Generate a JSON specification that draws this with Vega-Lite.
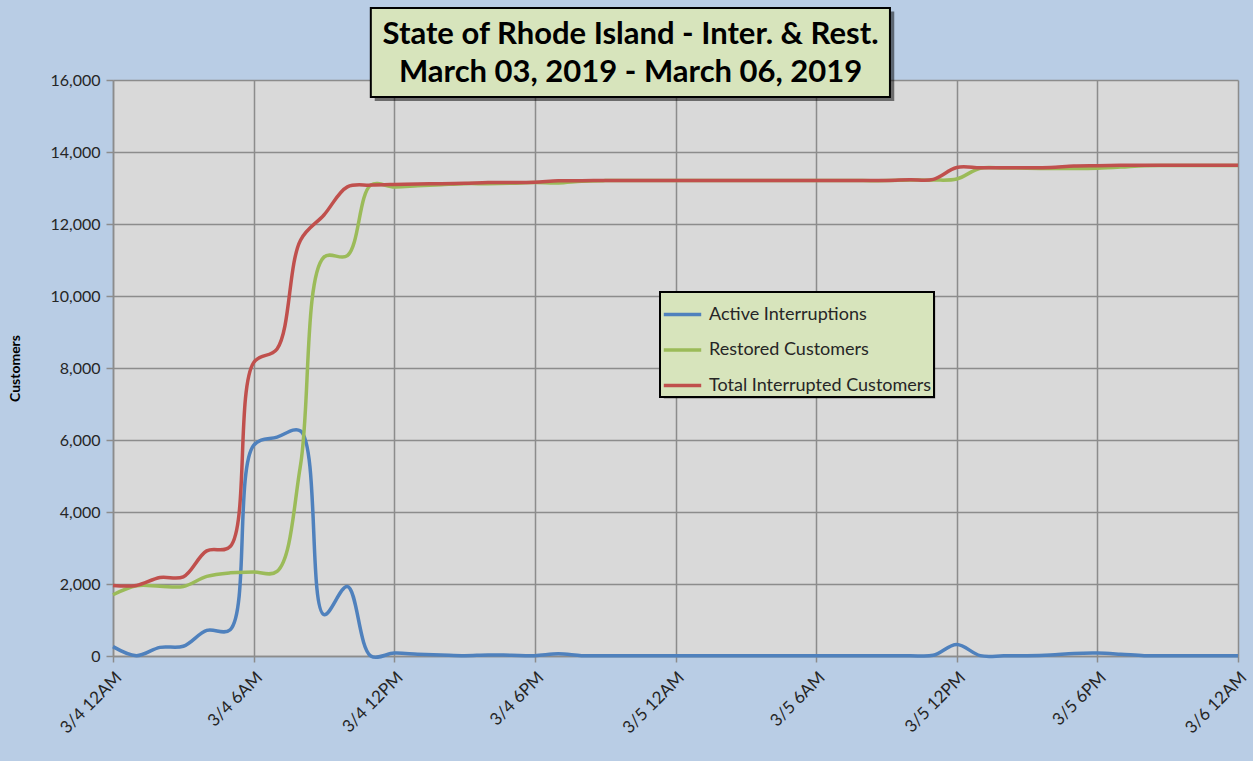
{
  "$schema": "https://vega.github.io/schema/vega-lite/v6.json",
  "width": 1125,
  "height": 576,
  "autosize": {"type": "none"},
  "padding": {"left": 113, "top": 80, "right": 15, "bottom": 105},
  "background": "#B9CDE5",
  "config": {
    "view": {"fill": "#D9D9D9", "stroke": null},
    "font": "Lato",
    "axis": {
      "gridColor": "#8C8C8C",
      "gridWidth": 1.5,
      "domainColor": "#8C8C8C",
      "domainWidth": 1.5,
      "tickColor": "#8C8C8C",
      "tickWidth": 1.5,
      "labelColor": "#262626",
      "labelFont": "Lato",
      "titleFont": "Lato"
    }
  },
  "datasets": {
    "series": [
      {"time": "2019-03-04T00:00", "Active Interruptions": 260, "Restored Customers": 1700, "Total Interrupted Customers": 1960},
      {"time": "2019-03-04T01:00", "Active Interruptions": 10, "Restored Customers": 1950, "Total Interrupted Customers": 1960},
      {"time": "2019-03-04T02:00", "Active Interruptions": 240, "Restored Customers": 1940, "Total Interrupted Customers": 2180},
      {"time": "2019-03-04T03:00", "Active Interruptions": 270, "Restored Customers": 1930, "Total Interrupted Customers": 2200},
      {"time": "2019-03-04T04:00", "Active Interruptions": 710, "Restored Customers": 2210, "Total Interrupted Customers": 2920},
      {"time": "2019-03-04T05:00", "Active Interruptions": 730, "Restored Customers": 2310, "Total Interrupted Customers": 3040},
      {"time": "2019-03-04T06:00", "Active Interruptions": 5850, "Restored Customers": 2330, "Total Interrupted Customers": 8150},
      {"time": "2019-03-04T07:00", "Active Interruptions": 6080, "Restored Customers": 2350, "Total Interrupted Customers": 8530},
      {"time": "2019-03-04T08:00", "Active Interruptions": 6250, "Restored Customers": 5300, "Total Interrupted Customers": 11550},
      {"time": "2019-03-04T09:00", "Active Interruptions": 1150, "Restored Customers": 11080, "Total Interrupted Customers": 12250},
      {"time": "2019-03-04T10:00", "Active Interruptions": 1930, "Restored Customers": 11120, "Total Interrupted Customers": 13030},
      {"time": "2019-03-04T11:00", "Active Interruptions": 0, "Restored Customers": 13080, "Total Interrupted Customers": 13080},
      {"time": "2019-03-04T12:00", "Active Interruptions": 80, "Restored Customers": 13030, "Total Interrupted Customers": 13100},
      {"time": "2019-03-04T13:00", "Active Interruptions": 50, "Restored Customers": 13060, "Total Interrupted Customers": 13110},
      {"time": "2019-03-04T14:00", "Active Interruptions": 30, "Restored Customers": 13090, "Total Interrupted Customers": 13120},
      {"time": "2019-03-04T15:00", "Active Interruptions": 10, "Restored Customers": 13120, "Total Interrupted Customers": 13130},
      {"time": "2019-03-04T16:00", "Active Interruptions": 30, "Restored Customers": 13120, "Total Interrupted Customers": 13150},
      {"time": "2019-03-04T17:00", "Active Interruptions": 20, "Restored Customers": 13130, "Total Interrupted Customers": 13150},
      {"time": "2019-03-04T18:00", "Active Interruptions": 10, "Restored Customers": 13150, "Total Interrupted Customers": 13160},
      {"time": "2019-03-04T19:00", "Active Interruptions": 60, "Restored Customers": 13140, "Total Interrupted Customers": 13200},
      {"time": "2019-03-04T20:00", "Active Interruptions": 10, "Restored Customers": 13190, "Total Interrupted Customers": 13200},
      {"time": "2019-03-04T21:00", "Active Interruptions": 5, "Restored Customers": 13205, "Total Interrupted Customers": 13210},
      {"time": "2019-03-04T22:00", "Active Interruptions": 5, "Restored Customers": 13205, "Total Interrupted Customers": 13210},
      {"time": "2019-03-04T23:00", "Active Interruptions": 5, "Restored Customers": 13205, "Total Interrupted Customers": 13210},
      {"time": "2019-03-05T00:00", "Active Interruptions": 5, "Restored Customers": 13205, "Total Interrupted Customers": 13210},
      {"time": "2019-03-05T01:00", "Active Interruptions": 5, "Restored Customers": 13205, "Total Interrupted Customers": 13210},
      {"time": "2019-03-05T02:00", "Active Interruptions": 5, "Restored Customers": 13205, "Total Interrupted Customers": 13210},
      {"time": "2019-03-05T03:00", "Active Interruptions": 5, "Restored Customers": 13205, "Total Interrupted Customers": 13210},
      {"time": "2019-03-05T04:00", "Active Interruptions": 5, "Restored Customers": 13205, "Total Interrupted Customers": 13210},
      {"time": "2019-03-05T05:00", "Active Interruptions": 5, "Restored Customers": 13205, "Total Interrupted Customers": 13210},
      {"time": "2019-03-05T06:00", "Active Interruptions": 5, "Restored Customers": 13205, "Total Interrupted Customers": 13210},
      {"time": "2019-03-05T07:00", "Active Interruptions": 5, "Restored Customers": 13205, "Total Interrupted Customers": 13210},
      {"time": "2019-03-05T08:00", "Active Interruptions": 5, "Restored Customers": 13205, "Total Interrupted Customers": 13210},
      {"time": "2019-03-05T09:00", "Active Interruptions": 5, "Restored Customers": 13205, "Total Interrupted Customers": 13210},
      {"time": "2019-03-05T10:00", "Active Interruptions": 10, "Restored Customers": 13220, "Total Interrupted Customers": 13230},
      {"time": "2019-03-05T11:00", "Active Interruptions": 20, "Restored Customers": 13220, "Total Interrupted Customers": 13240},
      {"time": "2019-03-05T12:00", "Active Interruptions": 320, "Restored Customers": 13250, "Total Interrupted Customers": 13570},
      {"time": "2019-03-05T13:00", "Active Interruptions": 10, "Restored Customers": 13550, "Total Interrupted Customers": 13560},
      {"time": "2019-03-05T14:00", "Active Interruptions": 5, "Restored Customers": 13555, "Total Interrupted Customers": 13560},
      {"time": "2019-03-05T15:00", "Active Interruptions": 10, "Restored Customers": 13550, "Total Interrupted Customers": 13560},
      {"time": "2019-03-05T16:00", "Active Interruptions": 30, "Restored Customers": 13540, "Total Interrupted Customers": 13570},
      {"time": "2019-03-05T17:00", "Active Interruptions": 70, "Restored Customers": 13540, "Total Interrupted Customers": 13610},
      {"time": "2019-03-05T18:00", "Active Interruptions": 80, "Restored Customers": 13550, "Total Interrupted Customers": 13620},
      {"time": "2019-03-05T19:00", "Active Interruptions": 50, "Restored Customers": 13580, "Total Interrupted Customers": 13630},
      {"time": "2019-03-05T20:00", "Active Interruptions": 10, "Restored Customers": 13620, "Total Interrupted Customers": 13630},
      {"time": "2019-03-05T21:00", "Active Interruptions": 5, "Restored Customers": 13625, "Total Interrupted Customers": 13630},
      {"time": "2019-03-05T22:00", "Active Interruptions": 5, "Restored Customers": 13625, "Total Interrupted Customers": 13630},
      {"time": "2019-03-05T23:00", "Active Interruptions": 5, "Restored Customers": 13625, "Total Interrupted Customers": 13630},
      {"time": "2019-03-06T00:00", "Active Interruptions": 5, "Restored Customers": 13625, "Total Interrupted Customers": 13630}
    ],
    "box": [{"label": "State of Rhode Island - Inter. & Rest.", "label2": "March 03, 2019 - March 06, 2019"}]
  },
  "layer": [
    {
      "data": {"name": "series"},
      "transform": [
        {"fold": ["Active Interruptions", "Restored Customers", "Total Interrupted Customers"], "as": ["series", "value"]}
      ],
      "mark": {"type": "line", "interpolate": "catmull-rom", "strokeWidth": 3.5, "clip": false},
      "encoding": {
        "x": {
          "field": "time",
          "type": "temporal",
          "scale": {"domain": [{"year": 2019, "month": 3, "date": 4, "hours": 0}, {"year": 2019, "month": 3, "date": 6, "hours": 0}]},
          "axis": {
            "title": null,
            "values": [
              {"year": 2019, "month": 3, "date": 4, "hours": 0},
              {"year": 2019, "month": 3, "date": 4, "hours": 6},
              {"year": 2019, "month": 3, "date": 4, "hours": 12},
              {"year": 2019, "month": 3, "date": 4, "hours": 18},
              {"year": 2019, "month": 3, "date": 5, "hours": 0},
              {"year": 2019, "month": 3, "date": 5, "hours": 6},
              {"year": 2019, "month": 3, "date": 5, "hours": 12},
              {"year": 2019, "month": 3, "date": 5, "hours": 18},
              {"year": 2019, "month": 3, "date": 6, "hours": 0}
            ],
            "labelExpr": "timeFormat(datum.value, '%-m/%-d %-I%p')",
            "labelAngle": -45,
            "labelFontSize": 17,
            "tickSize": 6,
            "labelPadding": 7
          }
        },
        "y": {
          "field": "value",
          "type": "quantitative",
          "scale": {"domain": [0, 16000], "nice": false},
          "axis": {
            "title": "Customers",
            "titleFontSize": 14,
            "titleFontWeight": "bold",
            "titleColor": "#000000",
            "titlePadding": 27,
            "values": [0, 2000, 4000, 6000, 8000, 10000, 12000, 14000, 16000],
            "format": ",.0f",
            "labelFontSize": 16,
            "tickSize": 7,
            "labelPadding": 6
          }
        },
        "color": {
          "field": "series",
          "type": "nominal",
          "scale": {"domain": ["Active Interruptions", "Restored Customers", "Total Interrupted Customers"], "range": ["#4F81BD", "#9BBB59", "#C0504D"]},
          "legend": {
            "title": null,
            "orient": "none",
            "legendX": 547,
            "legendY": 212,
            "fillColor": "#D7E4BC",
            "strokeColor": "#000000",
            "padding": 2,
            "symbolType": "stroke",
            "symbolSize": 1400,
            "symbolStrokeWidth": 3.5,
            "labelFontSize": 18,
            "labelFont": "Lato",
            "labelColor": "#262626",
            "labelLimit": 400,
            "rowPadding": 5.5,
            "labelOffset": 6,
            "encode": {"legend": {"update": {"strokeWidth": {"value": 2}}}}
          }
        }
      }
    },
    {
      "data": {"name": "box"},
      "mark": {"type": "rect", "fill": "#000000", "opacity": 0.4, "clip": false},
      "encoding": {
        "x": {"datum": {"year": 2019, "month": 3, "date": 4, "hours": 23, "minutes": 30}, "type": "temporal"},
        "x2": {"datum": {"year": 2019, "month": 3, "date": 5, "hours": 11, "minutes": 5}},
        "y": {"datum": 7150, "type": "quantitative"},
        "y2": {"datum": 10000}
      }
    },
    {
      "data": {"name": "box"},
      "mark": {"type": "rect", "fill": "#000000", "opacity": 0.5, "clip": false},
      "encoding": {
        "x": {"datum": {"year": 2019, "month": 3, "date": 4, "hours": 11, "minutes": 10}, "type": "temporal"},
        "x2": {"datum": {"year": 2019, "month": 3, "date": 5, "hours": 9, "minutes": 20}},
        "y": {"datum": 15420, "type": "quantitative"},
        "y2": {"datum": 17900}
      }
    },
    {
      "data": {"name": "box"},
      "mark": {"type": "rect", "fill": "#D7E4BC", "stroke": "#000000", "strokeWidth": 2, "clip": false},
      "encoding": {
        "x": {"datum": {"year": 2019, "month": 3, "date": 4, "hours": 11, "minutes": 0}, "type": "temporal"},
        "x2": {"datum": {"year": 2019, "month": 3, "date": 5, "hours": 9, "minutes": 9}},
        "y": {"datum": 15530, "type": "quantitative"},
        "y2": {"datum": 18000}
      }
    },
    {
      "data": {"name": "box"},
      "mark": {"type": "text", "font": "Lato", "fontSize": 31, "fontWeight": "bold", "color": "#000000", "align": "center", "baseline": "middle", "clip": false},
      "encoding": {
        "text": {"field": "label"},
        "x": {"datum": {"year": 2019, "month": 3, "date": 4, "hours": 22, "minutes": 5}, "type": "temporal"},
        "y": {"datum": 17250, "type": "quantitative"}
      }
    },
    {
      "data": {"name": "box"},
      "mark": {"type": "text", "font": "Lato", "fontSize": 31, "fontWeight": "bold", "color": "#000000", "align": "center", "baseline": "middle", "clip": false},
      "encoding": {
        "text": {"field": "label2"},
        "x": {"datum": {"year": 2019, "month": 3, "date": 4, "hours": 22, "minutes": 5}, "type": "temporal"},
        "y": {"datum": 16190, "type": "quantitative"}
      }
    }
  ]
}
